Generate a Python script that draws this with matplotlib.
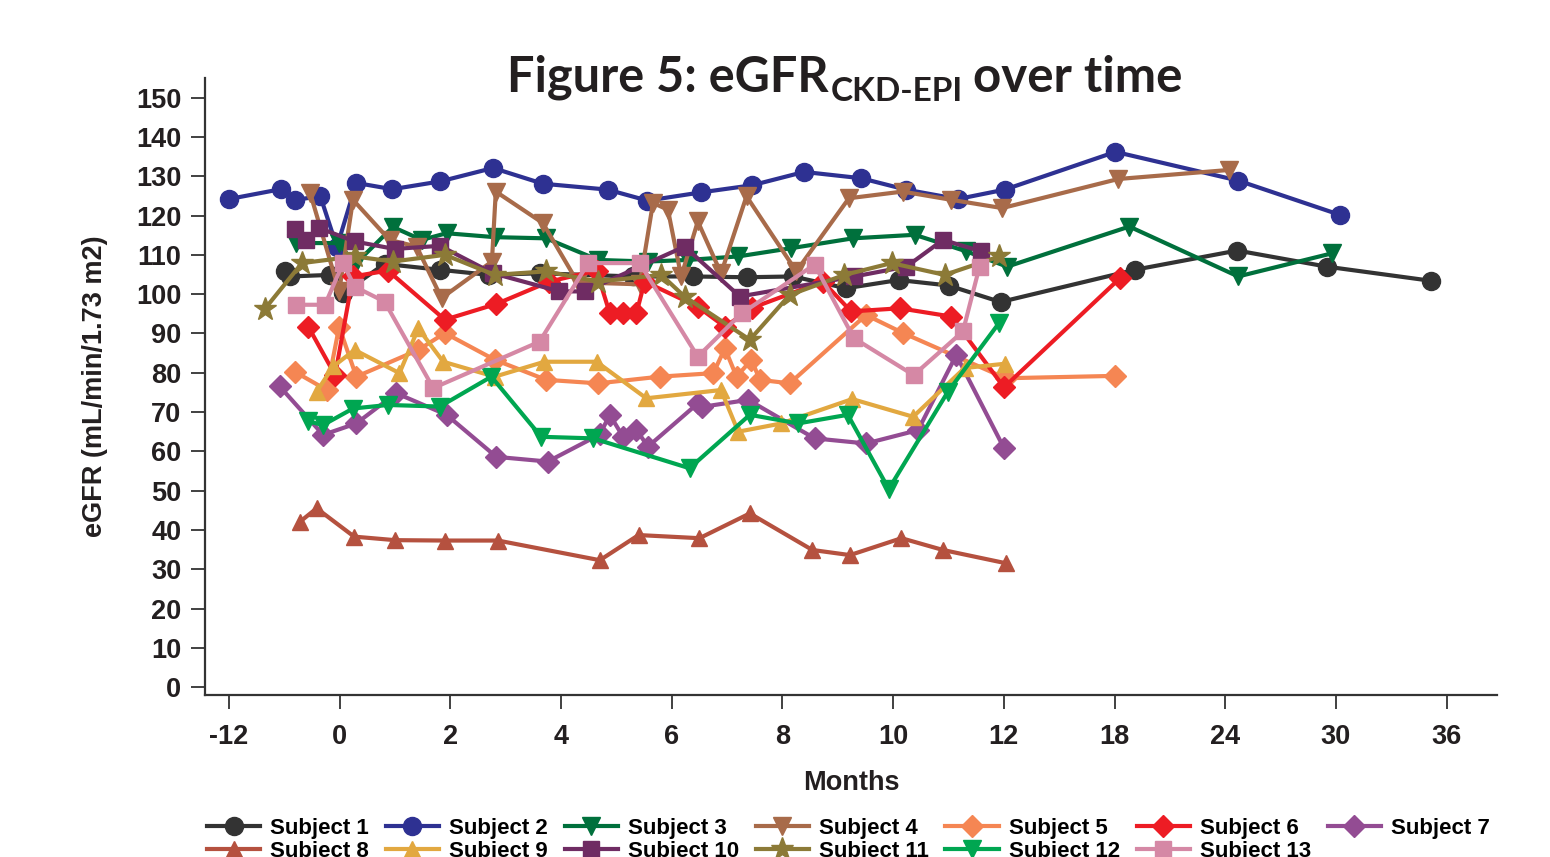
import numpy as np
import matplotlib
import matplotlib.pyplot as plt

matplotlib.use('Agg')
plt.rcParams['font.family'] = ['Liberation Sans', 'DejaVu Sans']
plt.rcParams['font.weight'] = 'bold'
plt.rcParams['axes.labelweight'] = 'bold'

# x axis is not linear: one tick per step below
tick_months = [-12, 0, 2, 4, 6, 8, 10, 12, 18, 24, 30, 36]

s1_months = [-5.9, -5.4, -1.0, 0.06, 0.81, 1.81, 2.70, 3.61, 5.30, 6.38, 7.35, 8.19, 9.15, 10.1, 11.0, 11.94, 19.1, 24.65, 29.5, 35.15]
s1_egfr = [105.8, 104.5, 104.9, 100.2, 107.7, 106.2, 104.9, 105.3, 104.5, 104.5, 104.3, 104.5, 101.5, 103.6, 102.2, 98.0, 106.2, 111.1, 107.0, 103.4]

s2_months = [-12, -6.4, -4.8, -2.1, -0.3, 0.30, 0.95, 1.82, 2.77, 3.67, 4.84, 5.56, 6.53, 7.45, 8.39, 9.42, 10.23, 11.17, 12.05, 18.05, 24.7, 30.2]
s2_egfr = [124.2, 126.7, 124.0, 124.9, 112.0, 128.3, 126.7, 128.7, 132.1, 128.1, 126.6, 123.8, 125.9, 127.7, 131.1, 129.5, 126.6, 124.2, 126.6, 136.2, 128.9, 120.2]

s3_months = [-4.7, -0.06, 0.27, 0.96, 1.48, 1.93, 2.80, 3.73, 4.67, 5.57, 6.29, 7.2, 8.16, 9.27, 10.39, 11.32, 12.18, 18.8, 24.7, 29.8]
s3_egfr = [113.0, 113.0, 107.5, 117.1, 113.8, 115.5, 114.5, 114.2, 108.7, 108.3, 108.7, 109.6, 111.7, 114.2, 115.1, 110.9, 107.0, 117.2, 104.5, 110.4]

s4_months = [-3.2, -0.06, 0.24, 0.90, 1.39, 1.84, 2.75, 2.82, 3.67, 4.3, 5.42, 5.66, 5.93, 6.17, 6.47, 6.89, 7.35, 8.25, 9.20, 10.17, 11.05, 11.97, 18.2, 24.2]
s4_egfr = [125.7, 100.7, 124.0, 113.8, 112.1, 99.0, 108.3, 126.1, 118.1, 103.0, 102.5, 123.2, 121.5, 104.5, 118.5, 105.3, 124.9, 105.8, 124.4, 126.1, 124.0, 121.9, 129.3, 131.6]

s5_months = [-4.9, -1.4, -0.06, 0.30, 1.42, 1.90, 2.80, 3.73, 4.67, 5.78, 6.75, 6.96, 7.17, 7.44, 7.59, 8.13, 9.51, 10.18, 12.1, 18.0]
s5_egfr = [80.3, 75.6, 91.7, 79.0, 85.8, 90.1, 83.3, 78.2, 77.3, 79.0, 79.9, 86.2, 79.0, 83.3, 78.2, 77.3, 94.7, 90.1, 78.6, 79.2]

s6_months = [-3.4, -0.5, 0.24, 0.87, 1.90, 2.83, 3.79, 4.64, 4.88, 5.12, 5.36, 5.51, 6.47, 6.96, 7.45, 8.73, 9.24, 10.12, 11.05, 12.01, 18.3]
s6_egfr = [91.7, 79.4, 104.5, 106.0, 93.5, 97.5, 103.2, 106.0, 95.1, 95.1, 95.1, 103.2, 96.8, 91.7, 96.5, 103.2, 95.6, 96.4, 94.3, 76.3, 104.1]

s7_months = [-6.5, -1.8, 0.30, 1.02, 1.93, 2.83, 3.76, 4.70, 4.88, 5.12, 5.36, 5.57, 6.47, 6.54, 7.38, 8.58, 9.51, 10.45, 11.14, 12.01]
s7_egfr = [76.5, 64.2, 67.1, 74.8, 69.3, 58.6, 57.4, 64.3, 69.3, 63.7, 65.5, 61.2, 72.2, 71.3, 73.1, 63.3, 62.0, 65.4, 84.5, 60.8]

s8_months = [-4.3, -2.5, 0.26, 1.0, 1.91, 2.86, 4.70, 5.40, 6.50, 7.41, 8.54, 9.22, 10.15, 10.9, 12.14]
s8_egfr = [42.1, 45.5, 38.3, 37.4, 37.3, 37.3, 32.3, 38.7, 37.9, 44.2, 34.9, 33.6, 37.9, 34.9, 31.5]

s9_months = [-2.5, -0.7, 0.27, 1.08, 1.42, 1.87, 2.8, 3.70, 4.64, 5.54, 6.89, 7.2, 7.98, 9.26, 10.36, 11.29, 12.07]
s9_egfr = [75.2, 81.6, 85.8, 79.9, 91.3, 82.8, 79.0, 82.8, 82.8, 73.5, 75.6, 65.0, 67.1, 73.3, 68.8, 81.2, 82.3]

s10_months = [-4.9, -3.7, -2.2, 0.27, 0.99, 1.81, 2.77, 3.97, 4.43, 6.23, 7.23, 9.3, 10.24, 10.9, 11.59]
s10_egfr = [116.5, 113.8, 116.8, 113.4, 111.5, 112.3, 105.3, 100.7, 100.7, 112.1, 99.4, 104.5, 107.0, 113.8, 110.9]

s11_months = [-8.1, -4.1, 0.27, 0.96, 1.90, 2.8, 3.73, 4.67, 5.81, 6.23, 7.41, 8.13, 9.12, 9.97, 10.93, 11.92]
s11_egfr = [96.3, 107.9, 109.6, 108.3, 110.0, 104.9, 105.8, 103.2, 104.9, 99.4, 88.4, 99.8, 104.9, 107.9, 104.9, 109.6]

s12_months = [-3.4, -1.8, 0.24, 0.87, 1.81, 2.74, 3.64, 4.58, 6.32, 7.41, 8.28, 9.18, 9.92, 10.99, 11.91]
s12_egfr = [67.6, 66.7, 70.9, 71.8, 71.4, 79.0, 63.7, 63.3, 55.7, 69.3, 67.1, 69.3, 50.4, 75.2, 92.6]

s13_months = [-4.7, -1.6, 0.06, 0.27, 0.81, 1.69, 3.61, 4.49, 5.42, 6.47, 7.26, 8.58, 9.29, 10.37, 11.26, 11.56]
s13_egfr = [97.3, 97.3, 107.9, 101.9, 98.1, 76.1, 87.9, 107.9, 107.9, 84.1, 95.1, 107.5, 88.8, 79.4, 90.5, 107.0]

subjects = [
    ('Subject 1', s1_months, s1_egfr, '#333333', 'o', 13),
    ('Subject 2', s2_months, s2_egfr, '#2E3192', 'o', 13),
    ('Subject 3', s3_months, s3_egfr, '#00703C', 'v', 13),
    ('Subject 4', s4_months, s4_egfr, '#A86B4A', 'v', 13),
    ('Subject 5', s5_months, s5_egfr, '#F58653', 'D', 11),
    ('Subject 6', s6_months, s6_egfr, '#ED1C24', 'D', 11),
    ('Subject 7', s7_months, s7_egfr, '#934C93', 'D', 11),
    ('Subject 8', s8_months, s8_egfr, '#B5513F', '^', 12),
    ('Subject 9', s9_months, s9_egfr, '#E2A840', '^', 12),
    ('Subject 10', s10_months, s10_egfr, '#6F2C63', 's', 12),
    ('Subject 11', s11_months, s11_egfr, '#8C7A37', '*', 17),
    ('Subject 12', s12_months, s12_egfr, '#00A651', 'v', 13),
    ('Subject 13', s13_months, s13_egfr, '#D588A5', 's', 12),
]

# piecewise mapping months -> tick slot (extra ends for extrapolation)
bp_months = np.array([-24] + tick_months + [42], dtype=float)
bp_slots = np.arange(-1, len(tick_months) + 1, dtype=float)


def fwd(m):
    return np.interp(m, bp_months, bp_slots)


def inv(s):
    return np.interp(s, bp_slots, bp_months)


fig = plt.figure(figsize=(15.5, 8.57), dpi=100)
ax = fig.add_axes([205 / 1550, 1 - 695 / 857, (1497 - 205) / 1550, (695 - 78) / 857])
ax.set_xscale('function', functions=(fwd, inv))

lines = []
for name, mo, eg, col, mk, ms in subjects:
    ln, = ax.plot(mo, eg, color=col, marker=mk, markersize=ms, linewidth=3,
                  markeredgecolor=col, label=name, clip_on=False)
    lines.append(ln)

ax.set_xlim(inv(-0.217), inv(11.455))
ax.set_ylim(-2, 155)
ax.set_xticks(tick_months)
ax.set_xticklabels([str(t) for t in tick_months])
ax.set_yticks(range(0, 151, 10))
ax.minorticks_off()

for side in ['top', 'right']:
    ax.spines[side].set_visible(False)
for side in ['left', 'bottom']:
    ax.spines[side].set_linewidth(1.6)
    ax.spines[side].set_color('#333333')
ax.tick_params(axis='x', length=10, width=1.3, pad=11, labelsize=19.5, colors='#333333')
ax.tick_params(axis='y', length=10, width=1.3, pad=7, labelsize=19.5, colors='#333333')
ax.tick_params(labelcolor='#231F20')

ax.set_xlabel('Months', fontsize=19.5, color='#231F20', labelpad=14)
ax.set_ylabel('eGFR (mL/min/1.73 m2)', fontsize=19.5, color='#231F20', labelpad=20)

# legend fills column by column, so interleave to get rows 1-7 / 8-13
order = [0, 7, 1, 8, 2, 9, 3, 10, 4, 11, 5, 12, 6]
ax.legend([lines[i] for i in order], [subjects[i][0] for i in order],
          loc='upper left', bbox_to_anchor=(207 / 1550, 1 - 818 / 857),
          bbox_transform=fig.transFigure, ncol=7, frameon=False, fontsize=16,
          handlelength=2.4, handletextpad=0.45, columnspacing=0.75,
          labelspacing=0.1, borderpad=0, borderaxespad=0)

# title with a subscript, built from three pieces
tfont = dict(family=['Lato', 'DejaVu Sans'], weight='bold', color='#231F20')
fig.canvas.draw()
r = fig.canvas.get_renderer()
t1 = fig.text(507 / 1550, 1 - 92 / 857, 'Figure 5: eGFR', fontsize=35, va='baseline', **tfont)
x1 = t1.get_window_extent(r).x1
t2 = fig.text((x1 + 2) / 1550, 1 - 101 / 857, 'CKD-EPI', fontsize=24, va='baseline', **tfont)
x2 = t2.get_window_extent(r).x1
t3 = fig.text((x2 + 10) / 1550, 1 - 92 / 857, 'over time', fontsize=35.5, va='baseline', **tfont)

fig.savefig('out.png', dpi=100)
